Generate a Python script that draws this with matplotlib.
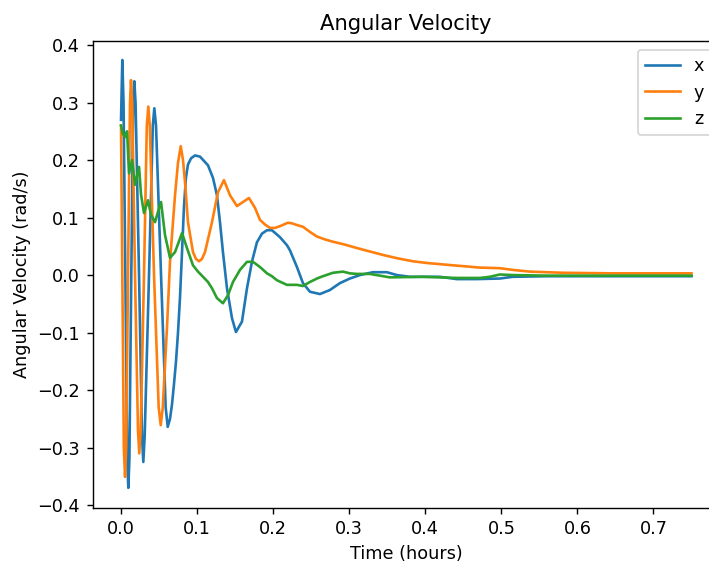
import matplotlib
matplotlib.use("Agg")
import matplotlib.pyplot as plt

# ---------- data ----------
t_x = [0.0, 0.0017, 0.0033, 0.0057, 0.0081, 0.0096, 0.011, 0.0135, 0.016, 0.0175,
       0.0191, 0.0237, 0.0276, 0.0293, 0.0311, 0.0368, 0.0418, 0.0438, 0.046, 0.0526,
       0.0587, 0.0614, 0.0644, 0.067, 0.0696, 0.0723, 0.0749, 0.0775, 0.0802, 0.0828,
       0.0854, 0.088, 0.092, 0.0972, 0.1038, 0.1143, 0.1209, 0.1261, 0.1301, 0.134,
       0.1393, 0.1459, 0.1511, 0.159, 0.1656, 0.1721, 0.1787, 0.1853, 0.1919, 0.1984,
       0.2089, 0.2181, 0.2221, 0.2313, 0.2392, 0.2484, 0.2615, 0.2746, 0.2878, 0.3009,
       0.3141, 0.3311, 0.3495, 0.3627, 0.3798, 0.4192, 0.4415, 0.4678, 0.498, 0.5151,
       0.5598, 0.75]
w_x = [0.27, 0.374, 0.30, 0.0, -0.32, -0.37, -0.32, 0.0, 0.30, 0.337,
       0.30, 0.0, -0.28, -0.325, -0.28, 0.0, 0.26, 0.29, 0.26, 0.0,
       -0.23, -0.264, -0.25, -0.225, -0.19, -0.15, -0.10, -0.04, 0.04, 0.12,
       0.17, 0.192, 0.203, 0.208, 0.206, 0.191, 0.169, 0.139, 0.092, 0.04,
       -0.023, -0.075, -0.099, -0.081, -0.023, 0.023, 0.057, 0.072, 0.078, 0.078,
       0.066, 0.052, 0.043, 0.014, -0.014, -0.029, -0.033, -0.026, -0.014, -0.006,
       0.0, 0.005, 0.005, 0.0, -0.003, -0.003, -0.007, -0.007, -0.006, -0.003,
       -0.002, -0.002]

t_y = [0.0, 0.0037, 0.0053, 0.0068, 0.0092, 0.0118, 0.0131, 0.0147, 0.0184, 0.0223,
       0.024, 0.0259, 0.0302, 0.0339, 0.0359, 0.0378, 0.0434, 0.0495, 0.0522, 0.0549,
       0.0604, 0.0644, 0.071, 0.0749, 0.0785, 0.0815, 0.0841, 0.088, 0.0946, 0.0986,
       0.1025, 0.1064, 0.1104, 0.1196, 0.1275, 0.1353, 0.1432, 0.1524, 0.1603, 0.1682,
       0.1761, 0.1827, 0.1892, 0.1958, 0.2024, 0.2089, 0.2194, 0.2247, 0.2313, 0.2392,
       0.2484, 0.2576, 0.2681, 0.2786, 0.2943, 0.3101, 0.3272, 0.3443, 0.364, 0.3837,
       0.4021, 0.4192, 0.4363, 0.4547, 0.4717, 0.498, 0.5151, 0.5375, 0.5808, 0.6465,
       0.75]
w_y = [0.26, -0.30, -0.351, -0.30, 0.0, 0.30, 0.339, 0.30, 0.0, -0.27,
       -0.31, -0.27, 0.0, 0.26, 0.293, 0.26, 0.0, -0.23, -0.261, -0.23,
       -0.092, 0.023, 0.139, 0.195, 0.224, 0.20, 0.162, 0.092, 0.04, 0.028,
       0.024, 0.028, 0.04, 0.092, 0.144, 0.165, 0.139, 0.12, 0.127, 0.134,
       0.117, 0.096, 0.088, 0.082, 0.082, 0.085, 0.091, 0.090, 0.087, 0.084,
       0.075, 0.067, 0.062, 0.058, 0.053, 0.047, 0.041, 0.035, 0.029, 0.024,
       0.021, 0.019, 0.017, 0.015, 0.013, 0.012, 0.009, 0.006, 0.004, 0.003,
       0.003]

t_z = [0.0, 0.0026, 0.0053, 0.0079, 0.0105, 0.0145, 0.0184, 0.0237, 0.0263, 0.0302,
       0.0355, 0.0394, 0.0447, 0.0486, 0.0526, 0.0578, 0.0644, 0.071, 0.0802, 0.0867,
       0.0946, 0.1012, 0.1078, 0.1143, 0.1196, 0.1261, 0.134, 0.1406, 0.1472, 0.1564,
       0.1656, 0.1735, 0.1827, 0.1919, 0.1984, 0.205, 0.2181, 0.2313, 0.2392, 0.2484,
       0.2576, 0.2654, 0.2786, 0.2917, 0.3009, 0.3101, 0.3272, 0.3535, 0.3968, 0.4415,
       0.4717, 0.4849, 0.498, 0.5151, 0.5598, 0.75]
w_z = [0.26, 0.245, 0.24, 0.25, 0.177, 0.2, 0.157, 0.188, 0.14, 0.108,
       0.13, 0.105, 0.092, 0.11, 0.127, 0.07, 0.03, 0.04, 0.073, 0.047,
       0.017, 0.006, -0.003, -0.012, -0.023, -0.04, -0.049, -0.035, -0.012, 0.009,
       0.023, 0.023, 0.014, 0.003, -0.002, -0.009, -0.017, -0.017, -0.019, -0.012,
       -0.006, -0.002, 0.004, 0.006, 0.003, 0.002, 0.002, -0.004, -0.003, -0.005,
       -0.005, -0.003, 0.001, 0.0, -0.001, -0.001]

# ---------- plot ----------
# reference looks like a default figure shown at ~126% and cropped
DPI = 126.5
fig = plt.figure(figsize=(709 / DPI, 566 / DPI), dpi=DPI)
# axes run past the right edge of the picture, like the cropped reference
ax = fig.add_axes([92.5 / 709, 58 / 566, 627.5 / 709, 467 / 566])

ax.plot(t_x, w_x, label="x")
ax.plot(t_y, w_y, label="y")
ax.plot(t_z, w_z, label="z")

ax.set_ylim(-0.405, 0.407)
ax.set_title("Angular Velocity")
ax.set_xlabel("Time (hours)")
ax.set_ylabel("Angular Velocity (rad/s)")
ax.legend(loc="upper right")

fig.savefig("out.png", dpi=DPI)
